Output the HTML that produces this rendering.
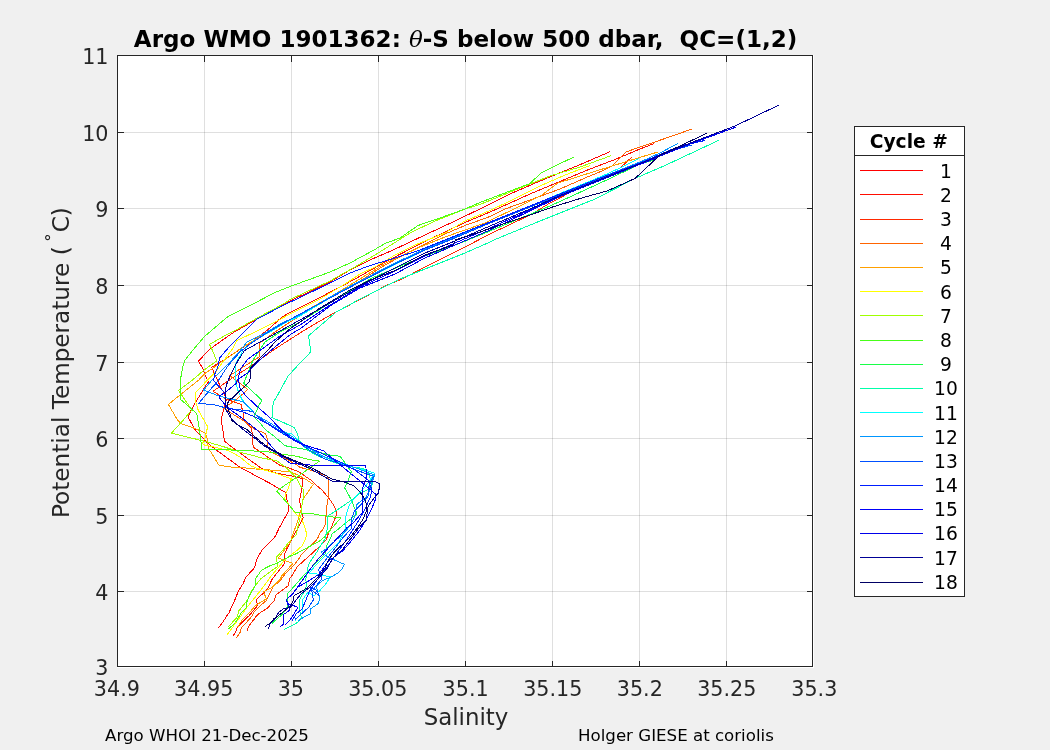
<!DOCTYPE html>
<html lang="en"><head><meta charset="utf-8"><title>Argo WMO 1901362: θ-S below 500 dbar, QC=(1,2)</title>
<style>html,body{margin:0;padding:0;background:#f0f0f0;overflow:hidden}svg{display:block}text{font-family:"DejaVu Sans","Liberation Sans",sans-serif;}</style></head><body>
<svg width="1050" height="750" viewBox="0 0 1050 750">
<rect width="1050" height="750" fill="#f0f0f0"/>
<rect x="117.0" y="55.0" width="697.0" height="613.0" fill="#fff"/>
<path d="M204.5 56.0V666.0M291.5 56.0V666.0M378.5 56.0V666.0M465.5 56.0V666.0M552.5 56.0V666.0M639.5 56.0V666.0M726.5 56.0V666.0" stroke="#262626" stroke-opacity="0.15" stroke-width="1" fill="none" shape-rendering="crispEdges"/>
<path d="M118.0 591.5H812.0M118.0 515.5H812.0M118.0 438.5H812.0M118.0 362.5H812.0M118.0 285.5H812.0M118.0 208.5H812.0M118.0 132.5H812.0" stroke="#262626" stroke-opacity="0.15" stroke-width="1" fill="none" shape-rendering="crispEdges"/>
<g fill="none" stroke-width="1" stroke-linejoin="round" shape-rendering="crispEdges">
<polyline points="218.4,628 222.7,622.4 226.4,616.5 229,612.8 230.7,609 234,602 238,592 240,588.5 243.5,583 244.5,580 245.7,577.3 253.7,568.7 255,566 256.3,560.7 257.7,557.3 261,552 262.3,549.7 274.3,537.7 275.7,535.3 279.3,527.7 286,515.7 288.4,511.7 288.7,506.3 287.3,501.7 286.3,495.7 285.7,492.3 280,489.3 270,483.3 256,476 246.7,470.7 240,467.3 216.4,450.1 207.7,443.2 194.7,429.3 188.6,418 188.7,415.2 191.9,408.8 196.1,401.3 202.5,391.2 205,386.7 208.3,382 205,374.7 203,369 198.5,361 210,349 229,335.5 235,331.5 259,318 285,304 290,301 330,282 350,270 370,260 392,250.5 425,235 455,221 487,205.5 510,194 540,181 578,165.5 610.5,151.5" stroke="#ff0000"/>
<polyline points="233.3,635.5 235.5,632 237,628.3 242.4,621.9 249.3,615.5 257.3,605.9 257.3,603.2 256.3,602 256.3,599.5 263,593.5 268,588 271.7,580 275.7,574.7 283.7,564.7 284.7,562 284.3,554.7 286.3,550 289,544.7 291.7,540 294,535 299.3,525.7 303.3,517.7 302,513 301,507.7 299.7,501.7 299.7,499.3 301,493 301.7,488.3 302.7,485 302.7,478.7 293.3,476.3 284,474.7 274.7,472.7 262,468.7 248.7,459.3 240,453 229.3,445 224.3,441 223.7,435 221.7,423.7 221.7,417 223,411.7 224.5,405 226.3,400 224.3,393.3 221.7,389.3 218.3,382 215,374.7 211.7,367 217,364.3 221.7,361.3 237,351.3 250,343 267,330.5 282,317 290,312.5 320,297.5 355,279 385,262 420,244 449,230 465,222.5 490,212 530,194 560,181.5 590,169 615,159.5 640,149 654,143.5" stroke="#ff0c00"/>
<polyline points="246.7,631.5 247.7,628.8 249.3,625.6 254.1,619.2 256.3,616 260,612.8 265.3,609.6 268,607.5 274,601 276,595 288,586 290,578 292.3,575 297,567 305,559.7 311.7,553.7 319.7,546.3 326.3,539.7 328.3,533.7 330.7,529 334.7,519.3 336.3,515.3 336.3,510.7 333.3,504.7 329.3,498.7 322,490 314,483.3 310.7,480 298,471.3 286.7,467.3 280,465.3 268,457.3 258.7,450.7 253.3,447.3 252.3,440 252.3,435 251.7,428.3 247,424 243.7,418.3 243.7,415 242.3,409.7 241,404.3 233.7,401.7 227,399.5 213,391.3 236.3,375.3 251,366 275,349 300,333 314,324.5 335,312.5 360,299.5 386.3,285.5 401,279.5 435,262 465,247 490,234 530,215 550,203 575,190 600,177 620,168 632.5,156.5" stroke="#ff2800"/>
<polyline points="236.5,637.6 240.3,632 241.3,627.7 246.1,622.9 252.5,615.5 253.6,612.3 258.9,606.9 266.4,600.5 273,587 280.7,580 285,574 291.7,567.7 298.3,559.7 301,555 307.7,548.3 315,541.7 317.7,538.3 320.3,532.3 322.3,530 325.3,524.7 326,516 326.7,506.7 328,498.7 328.7,485 328.7,479 326.7,475.7 322,474.3 313.3,471 308.7,469.7 300,467.3 297.3,465.3 288,460 274.7,454 270,451.3 268,447.3 267.7,445 267,437.7 265.7,433.7 262.3,432.3 255,429.3 249.7,425.7 244.3,421 236.3,416.3 223.7,408.3 228.3,405 233.7,401.7 238.3,397.7 241.7,395 247.7,389.3 229.7,375.7 251,362 259.7,356.7 259.7,352 260,343 275,332 290,322 330,298 360,281 385,265 415,249 445,234 465,225.5 490,216.5 505,209 530,200 560,189 585,178 602,171 612,166 626,152 640,147 665,138.5 691.5,129.2" stroke="#ff6400"/>
<polyline points="237.6,627.2 241.9,620.3 249.3,612.8 254.7,606.4 258.4,603.7 263.7,600.5 266.5,599 263.5,592 272,587.5 279.7,580 281.7,576 292.7,563.7 292.3,563 283.7,560.3 278.3,558 279,557 285,549.3 290.3,542 291.7,537.3 292.7,535 295.3,527.7 298,520.3 301,510 303.5,498 304.7,496.7 313.3,484.3 306.7,480 297.3,474.7 289.3,471.7 277.3,470.7 266.7,469.7 255.3,469 240,467.3 233.7,467.4 219,465.3 208.6,448.4 206.8,437 205.1,432.8 194.7,428.4 180.8,423.6 177.5,420 168.4,404.5 180,395 198.8,380 205,373.3 212.3,368.7 220.3,362.7 230.3,356 237.7,350.7 240,349 248,344 267,332 290,320 330,297 350,285 385,263.5 420,247 445,237 485,223 520,206 542,195 558,183 585,174.5 612,166 638,158 658.5,151.8" stroke="#ffa000"/>
<polyline points="227.2,634.7 235,624 248,606 261,590 268.3,580 271.7,575.3 283.7,561.3 285,559.7 291.7,554.3 297,550.3 301.7,546.3 304.3,541.7 306.3,536.3 306.3,532.3 305,528.3 304,525 301.3,518.3 296,514 284.7,499 284.7,497.7 286.3,492.3 287.7,490 289.3,484.7 291.3,478.7 283.3,476 276,473.3 266.7,470.7 256,468 251.3,466 246.7,462.7 240,457 229.4,451 216.4,447.5 205.1,445.3 202.5,443.6 205.5,437 206,433.6 207.7,426.7 204.2,420.6 198.2,410.2 195.5,401 195.3,392.8 205,382.7 215.7,372 222.3,362.7 227.7,355.3 231.7,350 237,340.5 257,331 278,320.5 290,314 320,299 345,284 360,274 375,267 395,255 415,245 445,233 465,221 490,210.5 510,201 540,186 565,175 590,165.5" stroke="#ffff00"/>
<polyline points="227.5,627.5 237,617.5 238.7,611 241.5,607.5 246,602 247.5,600 252,590 261,578.5 261.7,578 277.7,566.3 277.9,563.5 276.3,561.3 276.3,557.3 280.3,553 285,547.3 289,542 295,536 296,535 299.3,521 301.3,513.7 301.7,507.7 302.7,499.7 303.7,497 303.7,489.7 300,485.3 296.7,478.7 293.3,474.7 286.7,468 276.7,460.7 262,458 250,454.7 240,452.3 238,451.4 220.7,445.8 206.8,441.9 194.7,438.8 171.3,433.2 183.3,420 191.9,409.9 181.2,394.4 178.5,390.4 191.9,380.5 205,369.3 216.7,361 212.3,350 209.5,344.5 226,335 235,330.5 259,317 285,303 290,299.5 330,281 360,264 383,250 410,233 435,221 465,209 480,204.5 520,188 550,176 580,167 611.5,155.5" stroke="#a0ff00"/>
<polyline points="228.5,629 235.5,622.5 240.8,613.3 246.7,607.5 246.7,602 247.7,600 249,596 255,586.5 255.5,578.5 261.7,570 271,565.3 277,563.3 283,560 291.7,555.3 295,554.3 305,549 311.7,545.3 318.3,542 323.7,537.7 330.3,530 340.7,518 328,516.3 319.3,515 310.7,513.3 300,513 295.3,512.3 276.7,491 278.7,489.7 286.7,484 296.7,477.3 308.7,468.7 319.4,461.1 310,459.7 296.7,456.3 283.3,454.3 274.7,453 266.7,451.7 240,450.3 220.7,449.7 201.6,449.7 200.8,439.7 199.5,430.2 198.2,422.3 196.7,413.6 180.4,399.2 180.4,380 182.5,368 185,360 193,350 205,336 228,316.5 251,305 275,292.5 290,286.5 330,272 350,263 374,250 385,243.5 400,238 418,225.5 440,218 465,209 480,202.5 510,191 530,183.5 541,173 557,165 573.5,157.2" stroke="#48ff18"/>
<polyline points="272,623.3 282,614.7 287.3,606.3 287.3,594.7 288,593.3 305,574 314.3,565 325,554.3 327,545 330.3,538.3 332.3,533.7 338,529.3 352,518 356.7,514 356,511.3 354,506.7 352,501.3 349.3,496 344.7,488 347.3,482.7 351.3,471.7 346,464.3 340,456.3 328,454.7 322,453 315.3,452.3 305,449.3 295,447.7 285,445.7 275,437 265,429.3 261.7,425 254.3,417 254.3,415 256.3,411.7 258.3,406.3 261,401.7 261,399.3 243.7,383.3 246.3,376.7 251.7,363.3 253,360 265,342 280,332 300,322 330,303 372,278 420,258 463,242 490,231 550,206 585,190 610,178.5 640,164 654,160" stroke="#18ff48"/>
<polyline points="284.3,629.3 298,622.3 301.3,617.3 299.3,608.7 300,598.7 304,592 307,584.7 305.7,579.3 307,572 308.3,565.3 311.7,559.3 317,552 319.7,547 325,539 327,529.7 327.7,525 327.7,516 336,510.7 350.7,500.7 360,493.3 367.3,490 371.7,486.3 372.3,484.3 369,475 365,469.3 358.3,467.7 347,466.3 330,461 315,454.7 308.3,450.3 302.3,445 299,439.7 297,433 294.3,427.7 281.7,421.7 272,417.7 272.3,408.3 273.7,401.7 277.7,395 288,376.2 300,363 310.9,351.8 308.6,335.8 320,325.9 336,312.2 360,299 395,281.5 400,279 465,253 490,242 495,239.5 540,221 585,203 594,199.5 636,178 665,165.5 718.8,140.3" stroke="#00ffaa"/>
<polyline points="295.3,621.3 295.3,619.3 302,613.3 302,600.7 308,592 313.7,596 319.7,590.7 326.3,583.3 330.3,576.7 322.3,575.3 313.7,573.3 309,573.3 315,566 325,556 333,548 338.7,542.7 345.3,528.7 345.3,518.7 346.7,513.3 349.3,505.3 351.7,501.7 358.3,493.7 365,487 371.7,477.7 374.7,474.3 374.3,473 367.7,471 358.3,468.3 351.7,467 338.3,462.3 325,457.7 310,449 299.7,442.3 291.7,433.7 285,434.3 271.7,425.7 261.7,420.3 255,414.3 248.3,407 241.7,399 238.3,391.3 235.3,382 235,365.3 243,350 255,340 270,332 285,323 300,316 330,298 360,282 395,264.5 425,250 455,238 490,223 530,206.5 560,193.5 600,177 620,168 639,158.5" stroke="#00ffff"/>
<polyline points="298.3,620.7 304.7,616.7 310,614 310.7,608.7 318.7,603.3 319.7,596.7 318,592.7 316.3,586 322.3,580.7 331.7,576.7 338.3,572.7 341.7,569.3 344.3,564.3 338.3,561.7 333,559.3 327.7,556.7 321,552.3 325,549.7 335,541 343,534 350,526 355,516 357,504.3 366,497 370,490 372.5,481 374.5,475 368,472.5 352,466.5 338.3,461.5 325,457 311.7,450 295,438.5 281.7,430 265,420 255,414.3 252.3,410.3 243,401.7 231,399 219,396 203.6,390.1 211.6,380.5 226.3,366 239.7,351.3 247,342 265,333 282,323 300,315 330,297 360,281 395,263 425,249 455,237 490,222 530,206 560,194 600,178 640,162 660,153 677.8,143.5" stroke="#0096ff"/>
<polyline points="295.3,619.3 308.7,607.3 313.3,600 312,592 310.3,587.3 316.3,590 319,595.3 312.3,590.7 314.3,588 321,580 321.7,575.3 318.3,570 324,562 332,552 343.3,537.3 351.3,528.7 352,517.3 354.7,510.7 363.3,502 369,495 368.3,488.3 371.7,479.7 373.7,476.3 367.7,474.3 351.7,468.3 338.3,463 325,459 311.7,451.7 295,440 281.7,431.7 265,421.7 255,414.3 252.3,411.3 243,410.3 235,409.3 223.7,407.3 215,405 198.8,403.2 208.4,391.7 218,381 228.3,365.3 240,352 250,344 265,334 282,324 300,314 330,298 360,282 395,264 425,250 455,238 490,223 530,207 560,195 600,179 640,163.5 670,151 692,145" stroke="#0050ff"/>
<polyline points="292,621 296,614 302,609 306,600 309,592 315,583 322,573 330,563 337,553 345,542 352,531 359,520 365,509 370,498 372,490 368,480 355,470 340,462 325,455 310,448 295,441 280,432 268,424 255,417 243,412 232,409 225,407 225,393.3 213.7,380.7 214.3,375.3 217.7,367.3 219.7,358 225.7,350.7 235,341 245,331 257,319 285,304.5 300,297.5 330,283 350,273 370,265.5 395,258 420,250 450,238 490,222 530,206 560,194 600,178 640,163 680,146 704.8,140.5" stroke="#001eff"/>
<polyline points="285.3,624.7 291,618.7 298,607.3 287.3,603.3 286.7,599.3 292,594.7 298.3,586.7 307,582 318.3,574.7 325,566 327.7,562 338.3,554 343,550.7 352,540 360,530 366,520 372,508 376,498 375.7,494.3 365,485 350,473 328.3,455 323.7,451 305,445 291.7,438.3 281.7,430.3 269,417 257.7,407 245,395 240,388 238,378 241,368 248,359 262,349 280,336 300,325 330,305 360,287 395,271 425,256 455,243 490,228 530,210 560,196 585,186 620,172 650,160.5 680,147.5 705,138.5 720,133" stroke="#0000fa"/>
<polyline points="280.3,626.3 283.3,624.5 283.3,614.7 290,610 286.3,599.7 295,590.7 301.7,581.3 313,565.3 319.7,557.3 326.7,549.7 346.7,528 353.3,522.7 362.7,512 362.3,489.7 364.3,483 366.3,479.7 366,468.3 365,465.3 313.3,465.3 290.5,463.4 280,456 266,440 258,431 245,420.3 235,413 228.3,408.3 224.3,403.7 219.5,398 219,396 225,392.7 236.3,383.3 237.7,379.3 248.3,372.7 251,368.7 262,358 275,347 291,334 300,329 330,306 360,288 395,274 425,258 455,245 490,230 530,211 560,196.5 585,186.5 620,172.5 650,160 680,148 706,138 735.8,127.2" stroke="#0000eb"/>
<polyline points="268.7,628.6 269.3,625.5 271,622.5 275,619 278.5,612.5 283,609 291,607 296,600 301,594 310,587 319,578 327,568.5 333,558 342,550 360,526.7 366,520.7 368,506.7 370.3,503 374.3,497.7 378.3,493 379.7,486.3 379.7,483.7 375.7,482 345,481.5 331.7,481 310,468.5 287,458.5 265,446.5 252,436 240,427 231,418 226,410 225.7,400 225,393.3 226.3,385.3 229.7,376.7 233.7,368.7 238.3,360 244.3,350.7 260,342 280,331 300,320 330,303 360,286 395,268 425,253 455,241 490,226 530,209 560,195.5 585,185.5 620,171.5 650,159.5 680,147 706,137 735,126 778.7,105.2" stroke="#000096"/>
<polyline points="265.3,626.3 269.5,623.5 274,618.7 278,616 290,606.5 291.3,604.7 293.3,600.7 293.3,597.3 294.7,595.3 300,592.3 307,588 317,578 325,568 327.7,561.3 333,553.7 336.7,549.7 350,537.3 357.3,528 363.3,518.7 366.7,510 366.7,505.3 364.3,498.3 360.3,492.3 354.3,486 345,482.3 331.7,479 325,475 310,467 286.7,457.3 271,449 265,445 258.3,439.7 252.3,434.3 247,429.7 237,424.3 231.7,420.3 230.3,415 227.7,408.3 227.7,403 230.3,399 231.7,398.7 249,382 250.7,376.7 250.7,368 258.3,360 268,350 275,342 291,328 300,322 320,308 350,290 370,280 395,270.5 425,255 453,245 456,239.5 465,237 490,228.5 530,215 552.5,207 585,197 607,191 635,178.5 660,155 680,146 706.8,133.2" stroke="#000064"/>
</g>
<path d="M204.5 666.5v-6M204.5 55.5v6M291.5 666.5v-6M291.5 55.5v6M378.5 666.5v-6M378.5 55.5v6M465.5 666.5v-6M465.5 55.5v6M552.5 666.5v-6M552.5 55.5v6M639.5 666.5v-6M639.5 55.5v6M726.5 666.5v-6M726.5 55.5v6M117.5 591.5h6M812.5 591.5h-6M117.5 515.5h6M812.5 515.5h-6M117.5 438.5h6M812.5 438.5h-6M117.5 362.5h6M812.5 362.5h-6M117.5 285.5h6M812.5 285.5h-6M117.5 208.5h6M812.5 208.5h-6M117.5 132.5h6M812.5 132.5h-6" stroke="#262626" stroke-width="1" fill="none" shape-rendering="crispEdges"/>
<rect x="117.5" y="55.5" width="695.0" height="611.0" fill="none" stroke="#262626" stroke-width="1" shape-rendering="crispEdges"/>
<g font-size="20.7" fill="#262626">
<text x="116.9" y="696" text-anchor="middle">34.9</text>
<text x="203.7" y="696" text-anchor="middle">34.95</text>
<text x="290.8" y="696" text-anchor="middle">35</text>
<text x="377.8" y="696" text-anchor="middle">35.05</text>
<text x="465.6" y="696" text-anchor="middle">35.1</text>
<text x="552.8" y="696" text-anchor="middle">35.15</text>
<text x="639.8" y="696" text-anchor="middle">35.2</text>
<text x="726.8" y="696" text-anchor="middle">35.25</text>
<text x="814.3" y="696" text-anchor="middle">35.3</text>
<text x="108.5" y="674.60" text-anchor="end">3</text>
<text x="108.5" y="599.60" text-anchor="end">4</text>
<text x="108.5" y="523.60" text-anchor="end">5</text>
<text x="108.5" y="446.60" text-anchor="end">6</text>
<text x="108.5" y="370.60" text-anchor="end">7</text>
<text x="108.5" y="293.60" text-anchor="end">8</text>
<text x="108.5" y="216.60" text-anchor="end">9</text>
<text x="108.5" y="140.60" text-anchor="end">10</text>
<text x="108.5" y="63.60" text-anchor="end">11</text>
</g>
<text x="466" y="725" font-size="22.9" fill="#262626" text-anchor="middle">Salinity</text>
<text transform="translate(69,362.6) rotate(-90)" font-size="23.15" fill="#262626" text-anchor="middle">Potential Temperature (<tspan dx="4.5" dy="-11" font-size="17">°</tspan><tspan dx="1" dy="11">C)</tspan></text>
<text x="465.6" y="47" font-size="23.05" font-weight="bold" fill="#000" text-anchor="middle" xml:space="preserve">Argo WMO 1901362: <tspan font-family="'DejaVu Serif','Liberation Serif',serif" font-style="italic" font-weight="normal">θ</tspan>-S below 500 dbar,  QC=(1,2)</text>
<text x="105" y="741" font-size="16.65" fill="#000">Argo WHOI 21-Dec-2025</text>
<text x="578" y="741" font-size="16.65" fill="#000">Holger GIESE at coriolis</text>
<rect x="854.5" y="126.5" width="110.0" height="470.0" fill="#fff" stroke="#262626" stroke-width="1" shape-rendering="crispEdges"/>
<path d="M854.5 155.5H964.5" stroke="#262626" stroke-width="1" shape-rendering="crispEdges"/>
<text x="908.8" y="148" font-size="18.67" font-weight="bold" fill="#000" text-anchor="middle">Cycle #</text>
<g font-size="18.67" fill="#000">
<path d="M860 170.5H923" stroke="#ff0000" stroke-width="1" shape-rendering="crispEdges"/>
<text x="939.97" y="177.80">1</text>
<path d="M860 194.5H923" stroke="#ff0c00" stroke-width="1" shape-rendering="crispEdges"/>
<text x="939.97" y="201.97">2</text>
<path d="M860 219.5H923" stroke="#ff2800" stroke-width="1" shape-rendering="crispEdges"/>
<text x="939.97" y="226.14">3</text>
<path d="M860 243.5H923" stroke="#ff6400" stroke-width="1" shape-rendering="crispEdges"/>
<text x="939.97" y="250.31">4</text>
<path d="M860 267.5H923" stroke="#ffa000" stroke-width="1" shape-rendering="crispEdges"/>
<text x="939.97" y="274.48">5</text>
<path d="M860 291.5H923" stroke="#ffff00" stroke-width="1" shape-rendering="crispEdges"/>
<text x="939.97" y="298.65">6</text>
<path d="M860 315.5H923" stroke="#a0ff00" stroke-width="1" shape-rendering="crispEdges"/>
<text x="939.97" y="322.82">7</text>
<path d="M860 340.5H923" stroke="#48ff18" stroke-width="1" shape-rendering="crispEdges"/>
<text x="939.97" y="346.99">8</text>
<path d="M860 364.5H923" stroke="#18ff48" stroke-width="1" shape-rendering="crispEdges"/>
<text x="939.97" y="371.16">9</text>
<path d="M860 388.5H923" stroke="#00ffaa" stroke-width="1" shape-rendering="crispEdges"/>
<text x="934.04" y="395.33">10</text>
<path d="M860 412.5H923" stroke="#00ffff" stroke-width="1" shape-rendering="crispEdges"/>
<text x="934.04" y="419.50">11</text>
<path d="M860 436.5H923" stroke="#0096ff" stroke-width="1" shape-rendering="crispEdges"/>
<text x="934.04" y="443.67">12</text>
<path d="M860 461.5H923" stroke="#0050ff" stroke-width="1" shape-rendering="crispEdges"/>
<text x="934.04" y="467.84">13</text>
<path d="M860 485.5H923" stroke="#001eff" stroke-width="1" shape-rendering="crispEdges"/>
<text x="934.04" y="492.01">14</text>
<path d="M860 509.5H923" stroke="#0000fa" stroke-width="1" shape-rendering="crispEdges"/>
<text x="934.04" y="516.18">15</text>
<path d="M860 533.5H923" stroke="#0000eb" stroke-width="1" shape-rendering="crispEdges"/>
<text x="934.04" y="540.35">16</text>
<path d="M860 557.5H923" stroke="#000096" stroke-width="1" shape-rendering="crispEdges"/>
<text x="934.04" y="564.52">17</text>
<path d="M860 582.5H923" stroke="#000064" stroke-width="1" shape-rendering="crispEdges"/>
<text x="934.04" y="588.69">18</text>
</g>
</svg></body></html>
